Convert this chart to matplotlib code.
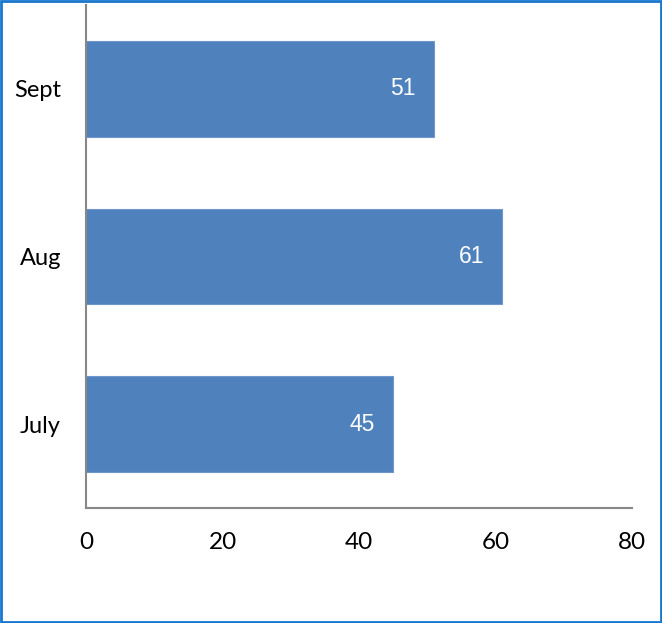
import matplotlib
matplotlib.use("Agg")
import matplotlib.pyplot as plt
from matplotlib.patches import Rectangle

# 数据
months = ["July", "Aug", "Sept"]
values = [45, 61, 51]
xticks = [0, 20, 40, 60, 80]

fig = plt.figure(figsize=(6.62, 6.23), dpi=100)
ax = fig.add_axes([86 / 662, 115 / 623, 546 / 662, 503 / 623])

bars = ax.barh(months, values, height=0.572, color="#4F81BD", edgecolor="#6F97CC", linewidth=0.8)

# 数据标签
for b, v in zip(bars, values):
    ax.annotate(str(v), (b.get_width(), b.get_y() + b.get_height() / 2),
                xytext=(-18, 0), textcoords="offset pixels",
                ha="right", va="center", color="white", fontsize=16.5,
                fontfamily="Liberation Sans")

ax.set_xlim(0, 80)
ax.set_ylim(-0.5, 2.5)
ax.set_xticks(xticks)
ax.set_xticklabels([str(t) for t in xticks], fontfamily="Lato", fontsize=17.5)
for lab in ax.get_yticklabels():
    lab.set_fontfamily("Lato")
    lab.set_fontsize(17)
ax.tick_params(axis="x", length=0, pad=17)
ax.tick_params(axis="y", length=0, pad=18)

for s in ["top", "right"]:
    ax.spines[s].set_visible(False)
for s in ["left", "bottom"]:
    ax.spines[s].set_color("#888888")
    ax.spines[s].set_linewidth(1.5)

# 外框
fig.patches.append(Rectangle((0.001, 0.001), 0.997, 0.997, transform=fig.transFigure,
                             fill=False, edgecolor="#1677CC", linewidth=2))

fig.savefig("out.png", dpi=100)
